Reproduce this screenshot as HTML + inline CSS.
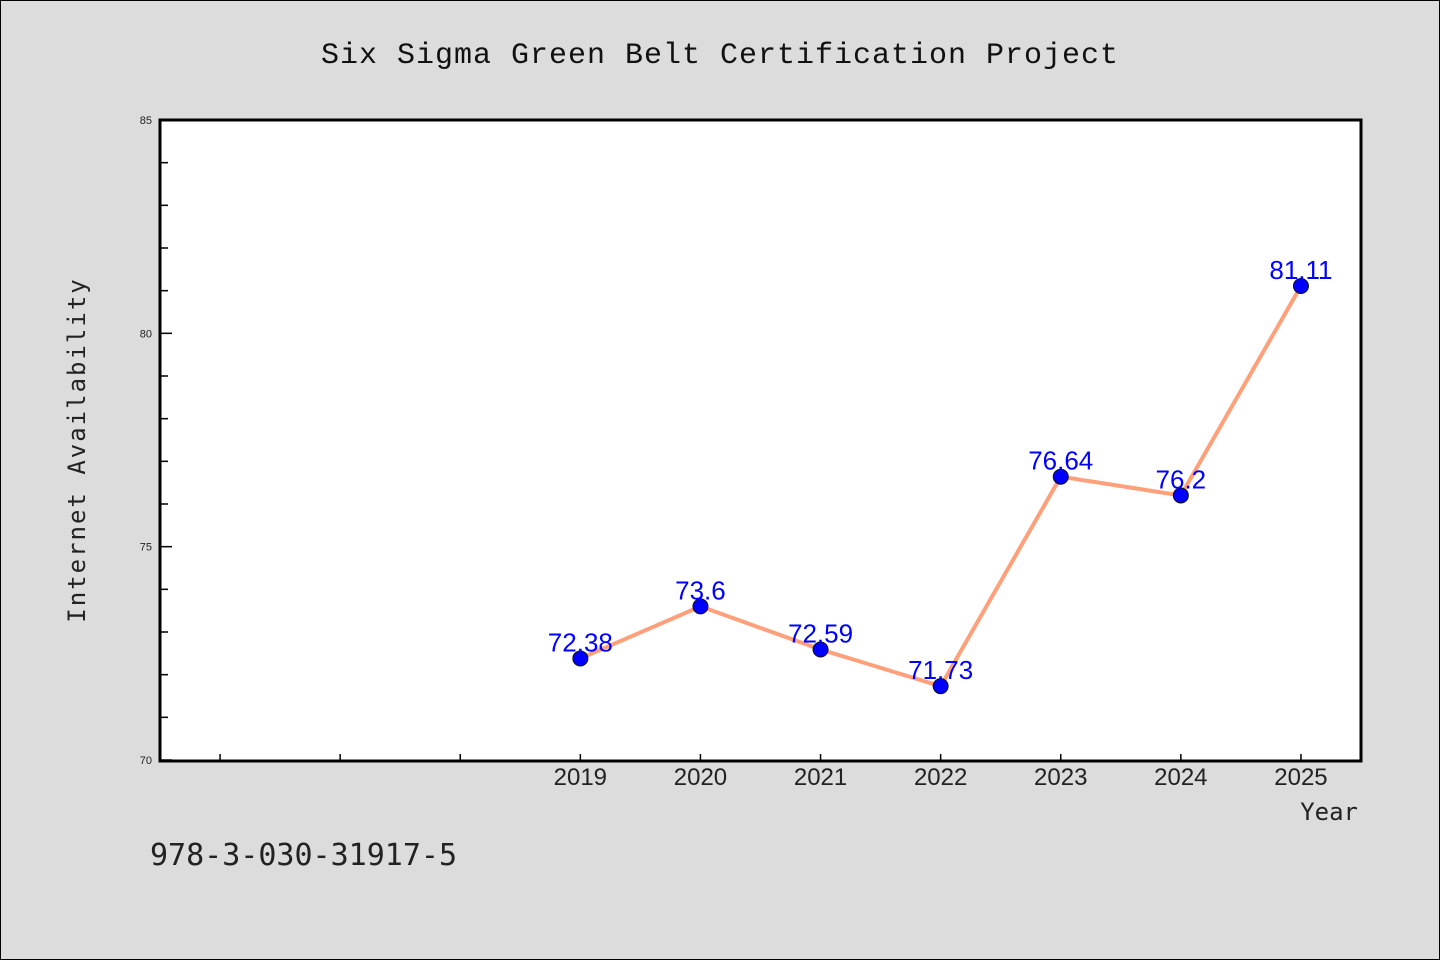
<!DOCTYPE html>
<html><head><meta charset="utf-8"><style>
body{margin:0;background:#dcdcdc;}
svg{display:block;font-family:"Liberation Sans","WenQuanYi Zen Hei",sans-serif;}
</style></head><body>
<svg width="1440" height="960">
<rect x="0.5" y="0.5" width="1439" height="959" fill="#dcdcdc" stroke="#000"/>
<text x="720" y="63" text-anchor="middle" font-size="30" font-family="'WenQuanYi Zen Hei','Liberation Mono',monospace" fill="#111" letter-spacing="1">Six Sigma Green Belt Certification Project</text>
<rect x="160" y="120" width="1201" height="641" fill="#fff"/>
<g id="axes"></g>
<g id="marks"></g>
<rect x="160" y="120" width="1201" height="641" fill="none" stroke="#000" stroke-width="3"/>
<text transform="translate(85,450) rotate(-90)" text-anchor="middle" font-size="24" font-family="'WenQuanYi Zen Hei',monospace" fill="#222" letter-spacing="2">Internet Availability</text>
<text x="1358" y="820" text-anchor="end" font-size="24" font-family="'WenQuanYi Zen Hei',monospace" fill="#222">Year</text>
<text x="150" y="865" font-size="30" font-family="'WenQuanYi Zen Hei',monospace" fill="#222">978-3-030-31917-5</text>
</svg>
<script>
const years=[2019,2020,2021,2022,2023,2024,2025];
const values=[72.38,73.6,72.59,71.73,76.64,76.2,81.11];
const labels=["72.38","73.6","72.59","71.73","76.64","76.2","81.11"];
const yTicks=[70,75,80,85];
const ns="http://www.w3.org/2000/svg";
const X=v=>160+(v-2015.5)/10*1201;
const Y=v=>760-(v-70)/15*640;
function mk(t,a,p){const e=document.createElementNS(ns,t);for(const k in a)e.setAttribute(k,a[k]);p.appendChild(e);return e;}
const ax=document.getElementById('axes'),mg=document.getElementById('marks');
for(let v=71;v<85;v++){if(v%5==0)continue;const l=mk('line',{x1:160,x2:168,y1:Y(v),y2:Y(v),stroke:'#000','stroke-width':1.5},ax);

}
yTicks.forEach(v=>{const l=mk('line',{x1:160,x2:172,y1:Y(v),y2:Y(v),stroke:'#000','stroke-width':1.5},ax);


const t=mk('text',{x:152,y:Y(v)+4,'text-anchor':'end','font-size':11,fill:'#222'},ax);t.textContent=v;

});
for(let yr=2016;yr<=2025;yr++){const l=mk('line',{x1:X(yr),x2:X(yr),y1:761,y2:754,stroke:'#000','stroke-width':1.5},ax);

}
years.forEach(yr=>{const t=mk('text',{x:X(yr),y:785,'text-anchor':'middle','font-size':24,fill:'#222'},ax);t.textContent=yr;

});
const line=mk('polyline',{points:years.map((y,i)=>X(y)+','+Y(values[i])).join(' '),fill:'none',stroke:'#ffa07a','stroke-width':4},mg);


years.forEach((y,i)=>{const c=mk('circle',{cx:X(y),cy:Y(values[i]),r:7.5,fill:'#0000ff',stroke:'#111','stroke-width':1},mg);


const t=mk('text',{x:X(y),y:Y(values[i])-7,'text-anchor':'middle','font-size':26,fill:'#0000ff'},mg);t.textContent=labels[i];

});
</script>
</body></html>
